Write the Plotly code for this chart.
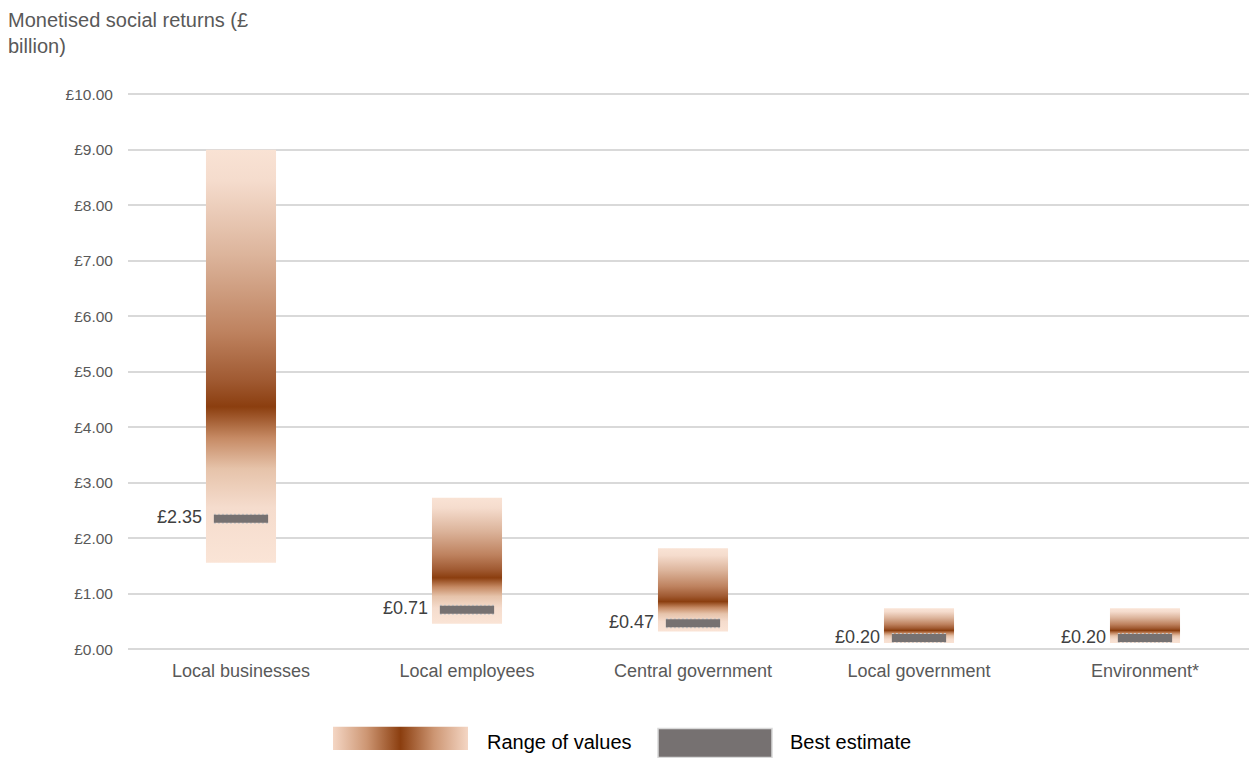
import plotly.graph_objects as go

# Monetised social returns by beneficiary (£ billion)
categories = ["Local businesses", "Local employees", "Central government",
              "Local government", "Environment*"]
range_low = [1.56, 0.46, 0.32, 0.11, 0.11]
range_high = [9.00, 2.73, 1.82, 0.74, 0.74]
range_peak = [4.30, 1.28, 0.86, 0.35, 0.35]
best_estimate = [2.35, 0.71, 0.47, 0.20, 0.20]
y_ticks = [0, 1, 2, 3, 4, 5, 6, 7, 8, 9, 10]
y_tick_labels = [f"£{v:.2f}" for v in y_ticks]

W, H = 1249, 758
LIGHT = "rgb(250,228,214)"
DARK = "rgb(139,62,15)"
GREY = "#767171"
TEXT = "#595959"
FONT = "Liberation Sans, Arial, sans-serif"

BAR_HALF = 0.155
EST_HALF = 0.12
Y_MAX = 10.03
GRAD_SHIFT = 0.18  # gradient band offset upwards, in axis units

# vertical placement helpers (rows measured from the top of the page)
ROW0, ROW_SCALE = 8.2, 0.9765


def fy(row):
    return 1 - ((row - ROW0) / ROW_SCALE) / H


def fx(px):
    return px / W


def bar_scale(p):
    """Colour stops (bottom=0, top=1) with the darkest band at fraction p."""
    up = 1 - p
    return [
        [0.0, LIGHT],
        [p * 0.35, "rgb(245,220,205)"],
        [p * 0.6, "rgb(230,195,170)"],
        [p * 0.8, "rgb(198,138,100)"],
        [p, DARK],
        [p + up * 0.1, "rgb(160,90,50)"],
        [p + up * 0.28, "rgb(190,130,95)"],
        [p + up * 0.57, "rgb(220,180,155)"],
        [p + up * 0.85, "rgb(245,220,205)"],
        [1.0, LIGHT],
    ]


fig = go.Figure()

# Range-of-values columns with a vertical gradient peaking at the central value
for i, (lo, hi, pk) in enumerate(zip(range_low, range_high, range_peak)):
    p = (pk - lo) / (hi - lo)
    fig.add_trace(go.Scatter(
        x=[i - BAR_HALF, i + BAR_HALF, i + BAR_HALF, i - BAR_HALF, i - BAR_HALF],
        y=[lo, lo, hi, hi, lo],
        mode="lines", fill="toself", line=dict(width=0),
        fillgradient=dict(type="vertical", colorscale=bar_scale(p),
                          start=lo + GRAD_SHIFT, stop=hi + GRAD_SHIFT),
        hoverinfo="skip", showlegend=False,
    ))

# Best-estimate markers: finely dashed light outline under a solid grey band
ex, ey = [], []
for i, v in enumerate(best_estimate):
    ex += [i - EST_HALF, i + EST_HALF, None]
    ey += [v, v, None]
fig.add_trace(go.Scatter(x=ex, y=ey, mode="lines",
                         line=dict(color="#C9C7C7", width=10, dash="2px,2px"),
                         hoverinfo="skip", showlegend=False))
fig.add_trace(go.Scatter(x=ex, y=ey, mode="lines",
                         line=dict(color=GREY, width=8),
                         hoverinfo="skip", showlegend=False))

# Best-estimate value labels
fig.add_trace(go.Scatter(
    x=[i - EST_HALF - 0.052 for i in range(len(categories))],
    y=best_estimate,
    mode="text",
    text=[f"£{v:.2f}" for v in best_estimate],
    textposition="middle left",
    textfont=dict(family=FONT, size=18, color="#404040"),
    hoverinfo="skip", showlegend=False,
))

# Legend swatch: horizontal gradient
fig.add_trace(go.Scatter(
    x=[0, 1, 1, 0, 0], y=[0, 0, 1, 1, 0],
    xaxis="x2", yaxis="y2",
    mode="lines", fill="toself", line=dict(width=0),
    fillgradient=dict(type="horizontal", colorscale=[
        [0.0, "rgb(244,214,196)"], [0.25, "rgb(205,150,115)"],
        [0.5, "rgb(139,62,15)"], [0.75, "rgb(205,150,115)"],
        [1.0, "rgb(244,214,196)"]]),
    hoverinfo="skip", showlegend=False,
))

x0_px, x1_px = 128, W
units_per_px = 1 / 226
zero_row, px_per_unit = 648, 55.3
top_row = zero_row - Y_MAX * px_per_unit

fig.update_layout(
    width=W, height=H,
    margin=dict(l=0, r=0, t=0, b=0),
    paper_bgcolor="white", plot_bgcolor="white",
    font=dict(family=FONT, color=TEXT),
    xaxis=dict(
        domain=[fx(x0_px), 1],
        range=[-0.5, -0.5 + (x1_px - x0_px) * units_per_px],
        tickvals=list(range(len(categories))), ticktext=categories,
        tickfont=dict(family=FONT, size=18, color=TEXT),
        showgrid=False, zeroline=False, showline=False, ticks="",
        ticklabelstandoff=9, fixedrange=True,
    ),
    yaxis=dict(
        domain=[fy(zero_row), fy(top_row)],
        range=[0, Y_MAX],
        tickvals=y_ticks, ticktext=y_tick_labels,
        tickfont=dict(family=FONT, size=15.5, color=TEXT),
        showgrid=True, gridcolor="#D9D9D9", gridwidth=1.5,
        zeroline=True, zerolinecolor="#D9D9D9", zerolinewidth=1.5,
        showline=False, ticks="", ticklabelstandoff=14, fixedrange=True,
    ),
    xaxis2=dict(domain=[fx(333), fx(468)], range=[0, 1], visible=False,
                fixedrange=True, anchor="y2"),
    yaxis2=dict(domain=[0, fy(725)], range=[0, 1], visible=False,
                fixedrange=True, anchor="x2"),
    showlegend=False,
)

# Legend grey swatch
fig.add_shape(type="rect", xref="paper", yref="paper",
              x0=fx(658), x1=fx(772), y0=-0.01, y1=fy(727),
              fillcolor=GREY, line=dict(color="#D9D9D9", width=1.5))

annotations = [
    dict(text="Monetised social returns (£<br>billion)", x=fx(6), y=1.0,
         xanchor="left", yanchor="top", align="left",
         font=dict(family=FONT, size=20, color=TEXT)),
    dict(text="Range of values", x=fx(485), y=fy(740),
         xanchor="left", yanchor="middle",
         font=dict(family=FONT, size=20, color="#000000")),
    dict(text="Best estimate", x=fx(788), y=fy(740),
         xanchor="left", yanchor="middle",
         font=dict(family=FONT, size=20, color="#000000")),
]
for a in annotations:
    fig.add_annotation(xref="paper", yref="paper", showarrow=False, **a)

fig.write_html("out.html")
